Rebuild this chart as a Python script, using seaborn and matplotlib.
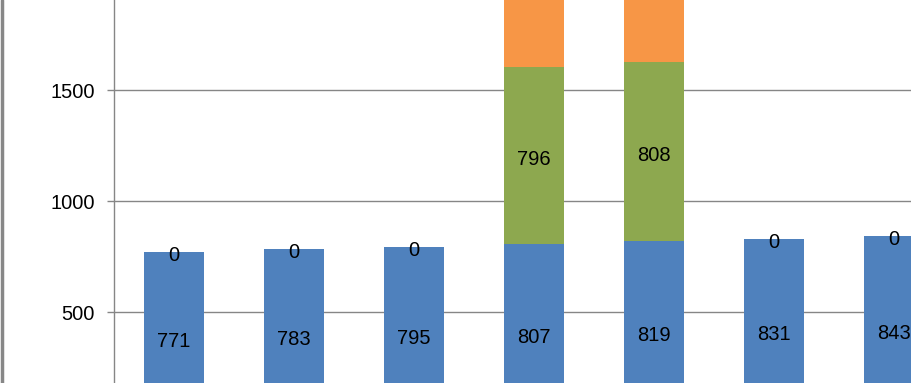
import matplotlib
matplotlib.use("Agg")
import matplotlib.pyplot as plt
import seaborn as sns
import pandas as pd
import numpy as np
from matplotlib.lines import Line2D

categories = ["A", "B", "C", "D", "E", "F", "G"]
blue_vals = [771, 783, 795, 807, 819, 831, 843]
green_vals = [0, 0, 0, 796, 808, 0, 0]
orange_vals = [0, 0, 0, 784, 796, 0, 0]
yticks = [500, 1000, 1500]

sns.set_theme(style="white")
plt.rcParams["font.family"] = ["Liberation Sans", "DejaVu Sans"]

df = pd.DataFrame({"cat": categories, "blue": blue_vals,
                   "green": green_vals, "orange": orange_vals})
df["lvl2"] = df["blue"] + df["green"]
df["lvl3"] = df["lvl2"] + df["orange"]

fig = plt.figure(figsize=(9.12, 3.83), dpi=100)
ax = fig.add_axes([114 / 912, 0, 1 - 114 / 912, 1])

c_blue, c_green, c_orange = "#4F81BD", "#8DA84F", "#F79646"
for col, color in [("lvl3", c_orange), ("lvl2", c_green), ("blue", c_blue)]:
    sns.barplot(data=df, x="cat", y=col, color=color, width=0.5,
                saturation=1, ax=ax, linewidth=0, zorder=3)

fs = 14.5
for i, row in df.iterrows():
    ax.annotate(f"{row['blue']}", (i, row["blue"] / 2), xytext=(0, -2.5),
                textcoords="offset points", ha="center", va="center",
                fontsize=fs, color="black", zorder=5)
    ax.annotate(f"{row['green']}", (i, row["blue"] + row["green"] / 2),
                xytext=(0, -2.5), textcoords="offset points", ha="center",
                va="center", fontsize=fs, color="black", zorder=5)

ax.set_xlim(-0.5, 6.15)
ax.set_ylim(182, 1905)
ax.set_yticks(yticks)
ax.set_yticklabels([str(t) for t in yticks], fontsize=fs)
ax.yaxis.grid(True, color="#868686", linewidth=1.0, zorder=0)
ax.set_axisbelow(True)
ax.set_xlabel("")
ax.set_ylabel("")
ax.set_xticks([])
for s in ["top", "right", "bottom"]:
    ax.spines[s].set_visible(False)
ax.spines["left"].set_color("#868686")
ax.spines["left"].set_linewidth(1.0)
ax.tick_params(axis="y", which="major", length=5, width=1, color="#868686",
               pad=9, direction="out", left=True, labelcolor="black")

fig.add_artist(Line2D([2 / 912, 2 / 912], [0, 1], color="#878787",
                      linewidth=2.5, transform=fig.transFigure))

fig.savefig("out.png", dpi=100)
